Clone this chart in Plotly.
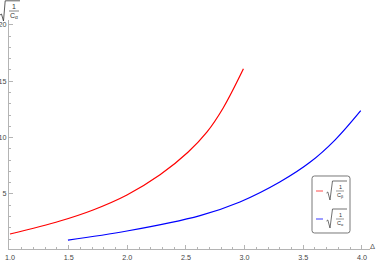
import plotly.graph_objects as go

# ---- data ----
delta_red = [1.0, 1.426, 1.708, 1.997, 2.279, 2.517, 2.68, 2.816, 2.99]
val_red = [1.45, 2.6, 3.58, 4.91, 6.7, 8.7, 10.5, 12.6, 16.1]

delta_blue = [1.494, 1.997, 2.62, 2.96, 3.30, 3.56, 3.77, 3.99]
val_blue = [0.91, 1.71, 3.08, 4.29, 6.06, 7.83, 9.78, 12.39]

x_ticks = [1.0, 1.5, 2.0, 2.5, 3.0, 3.5, 4.0]
x_ticktext = ["1.0", "1.5", "2.0", "2.5", "3.0", "3.5", "4.0"]
y_ticks = [5, 10, 15, 20]
y_ticktext = ["5", "10", "15", "20"]

# ---- geometry ----
WT, HT = 377, 261
L, R, T, B = 9, 370, 20, 249


def pp(px, py):
    return (px - L) / (R - L), (B - py) / (B - T)


fig = go.Figure()
fig.add_trace(go.Scatter(x=delta_red, y=val_red, mode="lines",
                         line=dict(color="#ff0000", width=1.2, shape="spline", smoothing=1.0),
                         showlegend=False))
fig.add_trace(go.Scatter(x=delta_blue, y=val_blue, mode="lines",
                         line=dict(color="#0000ff", width=1.2, shape="spline", smoothing=1.0),
                         showlegend=False))

axcol = "#b4b4b4"
tickfont = dict(family="Liberation Sans, Arial", size=7.2, color="#444444")

x_minor = [round(1.0 + 0.1 * i, 1) for i in range(31)]
x_minor = [v for v in x_minor if v not in x_ticks]
y_minor = [i for i in range(0, 21) if i not in y_ticks]

fig.update_xaxes(range=[1 - 1 / 117.3, 1 + 360 / 117.3], tickmode="array", tickvals=x_ticks, ticktext=x_ticktext,
                 showline=True, linecolor=axcol, linewidth=1, showgrid=False, zeroline=False, automargin=False,
                 ticks="inside", ticklen=4, tickcolor=axcol, tickfont=tickfont, ticklabelstandoff=1,
                 minor=dict(ticks="inside", ticklen=2, tickcolor=axcol, tickmode="array", tickvals=x_minor,
                            showgrid=False))
fig.update_yaxes(range=[(250.3 - 249) / 11.27, (250.3 - 20) / 11.27], tickmode="array", tickvals=y_ticks,
                 ticktext=y_ticktext,
                 showline=True, linecolor=axcol, linewidth=1, showgrid=False, zeroline=False, automargin=False,
                 ticks="inside", ticklen=4, tickcolor=axcol, tickfont=tickfont, ticklabelstandoff=0,
                 minor=dict(ticks="inside", ticklen=2, tickcolor=axcol, tickmode="array", tickvals=y_minor,
                            showgrid=False))

shapes = []
annotations = []
dark = "#333333"


def path_px(points, color=dark, width=0.8):
    s = ""
    for i, (x, y) in enumerate(points):
        a, b = pp(x, y)
        s += ("M" if i == 0 else "L") + f"{a:.5f},{b:.5f} "
    shapes.append(dict(type="path", xref="paper", yref="paper", path=s.strip(), line=dict(color=color, width=width)))


def text_px(x, y, txt, size, color=dark, xanchor="center"):
    a, b = pp(x, y)
    annotations.append(dict(x=a, y=b, xref="paper", yref="paper", text=txt, showarrow=False,
                            xanchor=xanchor, yanchor="middle",
                            font=dict(family="Liberation Sans, Arial", size=size, color=color)))


# y axis label: sqrt(1 / C_alpha)
path_px([(0, 15), (1.5, 14), (3.5, 21), (5.2, 0.8), (20, 0.8)])
path_px([(9, 11), (19, 11)], width=0.6)
text_px(14, 6.5, "1", 7)
text_px(14, 16.5, "C<sub>α</sub>", 7)

# x axis label
text_px(373, 246.5, "Δ", 7.5, color="#555555")

# legend box (rounded)
lx0, ly0, lx1, ly1, rr = 312, 176, 350, 233, 2.5
a0, b0 = pp(lx0, ly0)
a1, b1 = pp(lx1, ly1)
ra = rr / (R - L)
rb = rr / (B - T)
legpath = (f"M{a0 + ra:.5f},{b0:.5f} L{a1 - ra:.5f},{b0:.5f} Q{a1:.5f},{b0:.5f} {a1:.5f},{b0 - rb:.5f} "
           f"L{a1:.5f},{b1 + rb:.5f} Q{a1:.5f},{b1:.5f} {a1 - ra:.5f},{b1:.5f} L{a0 + ra:.5f},{b1:.5f} "
           f"Q{a0:.5f},{b1:.5f} {a0:.5f},{b1 + rb:.5f} L{a0:.5f},{b0 - rb:.5f} Q{a0:.5f},{b0:.5f} {a0 + ra:.5f},{b0:.5f} Z")
shapes.append(dict(type="path", xref="paper", yref="paper", path=legpath, line=dict(color="#555555", width=0.8),
                   fillcolor="white"))

legend_entries = [("#ff6b6b", "β", 191), ("#5a5aff", "α", 219)]
for col, sub, yc in legend_entries:
    path_px([(316, yc), (323, yc)], color=col, width=1.2)
    # radical
    path_px([(326.5, yc + 2), (327.8, yc + 1), (330, yc + 9), (332.5, yc - 10), (347, yc - 10)], width=0.7)
    path_px([(336, yc), (344, yc)], width=0.5)
    text_px(340, yc - 4.3, "1", 5.5)
    text_px(340, yc + 4, "C<sub>" + sub + "</sub>", 5.5)

fig.update_layout(width=WT, height=HT, margin=dict(l=L, r=WT - R, t=T, b=HT - B),
                  plot_bgcolor="white", paper_bgcolor="white", shapes=shapes, annotations=annotations)

fig.write_html("out.html", config={"displayModeBar": False},
               post_script="document.body.style.margin='0';document.body.style.overflow='hidden';")
